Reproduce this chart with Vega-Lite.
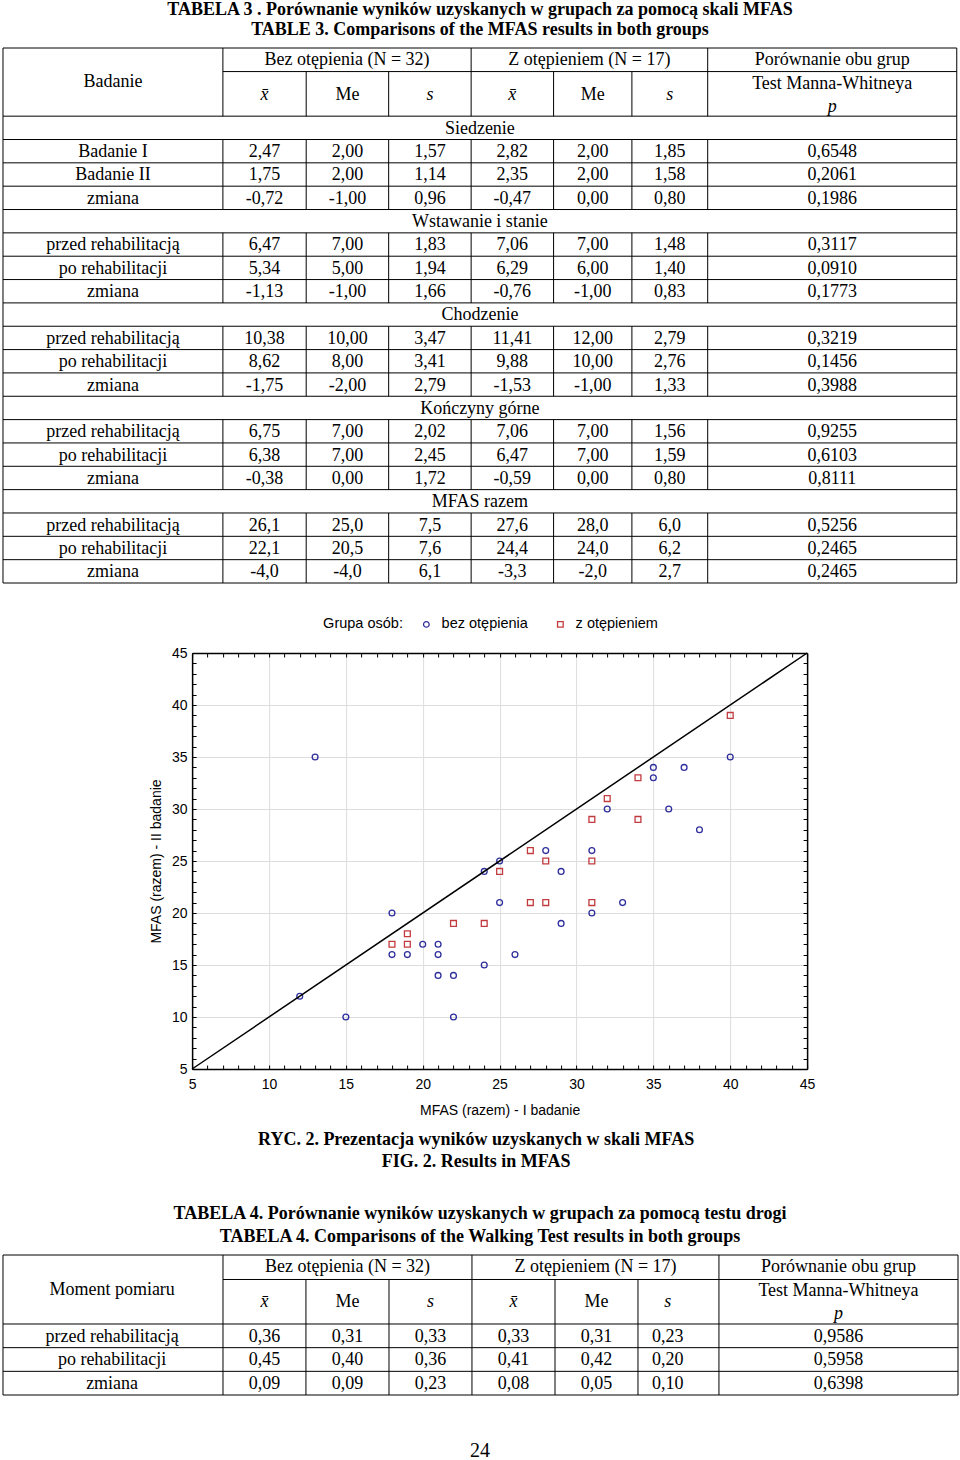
{
  "$schema": "https://vega.github.io/schema/vega-lite/v6.json",
  "background": "white",
  "padding": 0,
  "spacing": 33,
  "center": true,
  "resolve": {"legend": {"color": "independent", "shape": "independent"}},
  "config": {"view": {"stroke": null}, "font": "Liberation Sans"},
  "datasets": {
    "cols3": [
      {"c": "label", "x0": 0, "xm": 1.32},
      {"c": "m1", "x0": 2.64, "xm": 3.14},
      {"c": "me1", "x0": 3.64, "xm": 4.135},
      {"c": "s1", "x0": 4.63, "xm": 5.125},
      {"c": "m2", "x0": 5.62, "xm": 6.115},
      {"c": "me2", "x0": 6.61, "xm": 7.08},
      {"c": "s2", "x0": 7.55, "xm": 8.005},
      {"c": "p", "x0": 8.46, "xm": 9.955},
      {"c": "g1", "x0": 2.64, "xm": 4.13},
      {"c": "g2", "x0": 5.62, "xm": 7.04}
    ],
    "cols4": [
      {"c": "label", "x0": 0, "xm": 1.31},
      {"c": "m1", "x0": 2.641, "xm": 3.139},
      {"c": "me1", "x0": 3.637, "xm": 4.136},
      {"c": "s1", "x0": 4.634, "xm": 5.132},
      {"c": "m2", "x0": 5.63, "xm": 6.128},
      {"c": "me2", "x0": 6.627, "xm": 7.125},
      {"c": "s2", "x0": 7.623, "xm": 7.98},
      {"c": "p", "x0": 8.595, "xm": 10.03},
      {"c": "g1", "x0": 2.641, "xm": 4.136},
      {"c": "g2", "x0": 5.63, "xm": 7.113}
    ],
    "t3grid": [
      {"x": 0, "x2": 0, "y": -2.92, "y2": 20},
      {"x": 11.45, "x2": 11.45, "y": -2.92, "y2": 20},
      {"x": 0, "x2": 11.45, "y": -2.92, "y2": -2.92},
      {"x": 0, "x2": 11.45, "y": 20, "y2": 20},
      {"x": 2.64, "x2": 11.45, "y": -1.91, "y2": -1.91},
      {"x": 2.64, "x2": 2.64, "y": -2.92, "y2": 20},
      {"x": 5.62, "x2": 5.62, "y": -2.92, "y2": 20},
      {"x": 8.46, "x2": 8.46, "y": -2.92, "y2": 20},
      {"x": 3.64, "x2": 3.64, "y": -1.91, "y2": 20},
      {"x": 4.63, "x2": 4.63, "y": -1.91, "y2": 20},
      {"x": 6.61, "x2": 6.61, "y": -1.91, "y2": 20},
      {"x": 7.55, "x2": 7.55, "y": -1.91, "y2": 20}
    ],
    "t4grid": [
      {"x": 0, "x2": 0, "y": -2.915, "y2": 3},
      {"x": 11.465, "x2": 11.465, "y": -2.915, "y2": 3},
      {"x": 0, "x2": 11.465, "y": -2.915, "y2": -2.915},
      {"x": 0, "x2": 11.465, "y": 3, "y2": 3},
      {"x": 2.641, "x2": 11.465, "y": -1.88, "y2": -1.88},
      {"x": 2.641, "x2": 2.641, "y": -2.915, "y2": 3},
      {"x": 5.63, "x2": 5.63, "y": -2.915, "y2": 3},
      {"x": 8.595, "x2": 8.595, "y": -2.915, "y2": 3},
      {"x": 3.637, "x2": 3.637, "y": -1.88, "y2": 3},
      {"x": 4.634, "x2": 4.634, "y": -1.88, "y2": 3},
      {"x": 6.627, "x2": 6.627, "y": -1.88, "y2": 3},
      {"x": 7.623, "x2": 7.623, "y": -1.88, "y2": 3}
    ],
    "t3head": [
      {"t": "Badanie", "c": "label", "hy": -1.47},
      {"t": "Bez otępienia (N = 32)", "c": "g1", "hy": -2.41},
      {"t": "Z otępieniem (N = 17)", "c": "g2", "hy": -2.41},
      {"t": "Porównanie obu grup", "c": "p", "hy": -2.41},
      {"t": "x̄", "c": "m1", "hy": -0.92, "it": true},
      {"t": "Me", "c": "me1", "hy": -0.92},
      {"t": "s", "c": "s1", "hy": -0.92, "it": true},
      {"t": "x̄", "c": "m2", "hy": -0.92, "it": true},
      {"t": "Me", "c": "me2", "hy": -0.92},
      {"t": "s", "c": "s2", "hy": -0.92, "it": true},
      {"t": "Test Manna-Whitneya", "c": "p", "hy": -1.38},
      {"t": "p", "c": "p", "hy": -0.41, "it": true}
    ],
    "t4head": [
      {"t": "Moment pomiaru", "c": "label", "hy": -1.44},
      {"t": "Bez otępienia (N = 32)", "c": "g1", "hy": -2.41},
      {"t": "Z otępieniem (N = 17)", "c": "g2", "hy": -2.41},
      {"t": "Porównanie obu grup", "c": "p", "hy": -2.41},
      {"t": "x̄", "c": "m1", "hy": -0.93, "it": true},
      {"t": "Me", "c": "me1", "hy": -0.93},
      {"t": "s", "c": "s1", "hy": -0.93, "it": true},
      {"t": "x̄", "c": "m2", "hy": -0.93, "it": true},
      {"t": "Me", "c": "me2", "hy": -0.93},
      {"t": "s", "c": "s2", "hy": -0.93, "it": true},
      {"t": "Test Manna-Whitneya", "c": "p", "hy": -1.39},
      {"t": "p", "c": "p", "hy": -0.42, "it": true}
    ],
    "t3body": [
      {"row": 0, "next": 1, "section": "Siedzenie"},
      {"row": 1, "label": "Badanie I", "m1": "2,47", "me1": "2,00", "s1": "1,57", "m2": "2,82", "me2": "2,00", "s2": "1,85", "p": "0,6548"},
      {"row": 2, "label": "Badanie II", "m1": "1,75", "me1": "2,00", "s1": "1,14", "m2": "2,35", "me2": "2,00", "s2": "1,58", "p": "0,2061"},
      {"row": 3, "label": "zmiana", "m1": "-0,72", "me1": "-1,00", "s1": "0,96", "m2": "-0,47", "me2": "0,00", "s2": "0,80", "p": "0,1986"},
      {"row": 4, "next": 5, "section": "Wstawanie i stanie"},
      {"row": 5, "label": "przed rehabilitacją", "m1": "6,47", "me1": "7,00", "s1": "1,83", "m2": "7,06", "me2": "7,00", "s2": "1,48", "p": "0,3117"},
      {"row": 6, "label": "po rehabilitacji", "m1": "5,34", "me1": "5,00", "s1": "1,94", "m2": "6,29", "me2": "6,00", "s2": "1,40", "p": "0,0910"},
      {"row": 7, "label": "zmiana", "m1": "-1,13", "me1": "-1,00", "s1": "1,66", "m2": "-0,76", "me2": "-1,00", "s2": "0,83", "p": "0,1773"},
      {"row": 8, "next": 9, "section": "Chodzenie"},
      {"row": 9, "label": "przed rehabilitacją", "m1": "10,38", "me1": "10,00", "s1": "3,47", "m2": "11,41", "me2": "12,00", "s2": "2,79", "p": "0,3219"},
      {"row": 10, "label": "po rehabilitacji", "m1": "8,62", "me1": "8,00", "s1": "3,41", "m2": "9,88", "me2": "10,00", "s2": "2,76", "p": "0,1456"},
      {"row": 11, "label": "zmiana", "m1": "-1,75", "me1": "-2,00", "s1": "2,79", "m2": "-1,53", "me2": "-1,00", "s2": "1,33", "p": "0,3988"},
      {"row": 12, "next": 13, "section": "Kończyny górne"},
      {"row": 13, "label": "przed rehabilitacją", "m1": "6,75", "me1": "7,00", "s1": "2,02", "m2": "7,06", "me2": "7,00", "s2": "1,56", "p": "0,9255"},
      {"row": 14, "label": "po rehabilitacji", "m1": "6,38", "me1": "7,00", "s1": "2,45", "m2": "6,47", "me2": "7,00", "s2": "1,59", "p": "0,6103"},
      {"row": 15, "label": "zmiana", "m1": "-0,38", "me1": "0,00", "s1": "1,72", "m2": "-0,59", "me2": "0,00", "s2": "0,80", "p": "0,8111"},
      {"row": 16, "next": 17, "section": "MFAS razem"},
      {"row": 17, "label": "przed rehabilitacją", "m1": "26,1", "me1": "25,0", "s1": "7,5", "m2": "27,6", "me2": "28,0", "s2": "6,0", "p": "0,5256"},
      {"row": 18, "label": "po rehabilitacji", "m1": "22,1", "me1": "20,5", "s1": "7,6", "m2": "24,4", "me2": "24,0", "s2": "6,2", "p": "0,2465"},
      {"row": 19, "label": "zmiana", "m1": "-4,0", "me1": "-4,0", "s1": "6,1", "m2": "-3,3", "me2": "-2,0", "s2": "2,7", "p": "0,2465"}
    ],
    "t4body": [
      {"row": 0, "label": "przed rehabilitacją", "m1": "0,36", "me1": "0,31", "s1": "0,33", "m2": "0,33", "me2": "0,31", "s2": "0,23", "p": "0,9586"},
      {"row": 1, "label": "po rehabilitacji", "m1": "0,45", "me1": "0,40", "s1": "0,36", "m2": "0,41", "me2": "0,42", "s2": "0,20", "p": "0,5958"},
      {"row": 2, "label": "zmiana", "m1": "0,09", "me1": "0,09", "s1": "0,23", "m2": "0,08", "me2": "0,05", "s2": "0,10", "p": "0,6398"}
    ],
    "scatter": [
      {"I": 13, "II": 35, "grupa": "bez otępienia"},
      {"I": 40, "II": 35, "grupa": "bez otępienia"},
      {"I": 35, "II": 34, "grupa": "bez otępienia"},
      {"I": 37, "II": 34, "grupa": "bez otępienia"},
      {"I": 35, "II": 33, "grupa": "bez otępienia"},
      {"I": 32, "II": 30, "grupa": "bez otępienia"},
      {"I": 36, "II": 30, "grupa": "bez otępienia"},
      {"I": 38, "II": 28, "grupa": "bez otępienia"},
      {"I": 28, "II": 26, "grupa": "bez otępienia"},
      {"I": 31, "II": 26, "grupa": "bez otępienia"},
      {"I": 25, "II": 25, "grupa": "bez otępienia"},
      {"I": 24, "II": 24, "grupa": "bez otępienia"},
      {"I": 29, "II": 24, "grupa": "bez otępienia"},
      {"I": 25, "II": 21, "grupa": "bez otępienia"},
      {"I": 33, "II": 21, "grupa": "bez otępienia"},
      {"I": 31, "II": 20, "grupa": "bez otępienia"},
      {"I": 29, "II": 19, "grupa": "bez otępienia"},
      {"I": 26, "II": 16, "grupa": "bez otępienia"},
      {"I": 24, "II": 15, "grupa": "bez otępienia"},
      {"I": 18, "II": 20, "grupa": "bez otępienia"},
      {"I": 20, "II": 17, "grupa": "bez otępienia"},
      {"I": 21, "II": 17, "grupa": "bez otępienia"},
      {"I": 18, "II": 16, "grupa": "bez otępienia"},
      {"I": 19, "II": 16, "grupa": "bez otępienia"},
      {"I": 21, "II": 16, "grupa": "bez otępienia"},
      {"I": 21, "II": 14, "grupa": "bez otępienia"},
      {"I": 22, "II": 14, "grupa": "bez otępienia"},
      {"I": 12, "II": 12, "grupa": "bez otępienia"},
      {"I": 15, "II": 10, "grupa": "bez otępienia"},
      {"I": 22, "II": 10, "grupa": "bez otępienia"},
      {"I": 40, "II": 39, "grupa": "z otępieniem"},
      {"I": 34, "II": 33, "grupa": "z otępieniem"},
      {"I": 32, "II": 31, "grupa": "z otępieniem"},
      {"I": 31, "II": 29, "grupa": "z otępieniem"},
      {"I": 34, "II": 29, "grupa": "z otępieniem"},
      {"I": 27, "II": 26, "grupa": "z otępieniem"},
      {"I": 28, "II": 25, "grupa": "z otępieniem"},
      {"I": 31, "II": 25, "grupa": "z otępieniem"},
      {"I": 25, "II": 24, "grupa": "z otępieniem"},
      {"I": 27, "II": 21, "grupa": "z otępieniem"},
      {"I": 28, "II": 21, "grupa": "z otępieniem"},
      {"I": 31, "II": 21, "grupa": "z otępieniem"},
      {"I": 24, "II": 19, "grupa": "z otępieniem"},
      {"I": 22, "II": 19, "grupa": "z otępieniem"},
      {"I": 19, "II": 18, "grupa": "z otępieniem"},
      {"I": 18, "II": 17, "grupa": "z otępieniem"},
      {"I": 19, "II": 17, "grupa": "z otępieniem"}
    ],
    "diag": [{"I": 5, "II": 5}, {"I": 45, "II": 45}],
    "page": [{"n": "24"}]
  },
  "vconcat": [
    {
      "width": 960,
      "height": 535,
      "title": {"text": ["TABELA 3 . Porównanie wyników uzyskanych w grupach za pomocą skali MFAS", "TABLE 3. Comparisons of the MFAS results in both groups"], "font": "Liberation Serif", "fontSize": 18, "fontWeight": "bold", "lineHeight": 20, "color": "black", "anchor": "middle", "offset": 9},
      "layer": [
        {
          "data": {"name": "t3grid"},
          "mark": {"type": "rule", "color": "black", "strokeWidth": 1},
          "encoding": {
            "x": {"field": "x", "type": "quantitative", "scale": {"domain": [-0.036, 11.489], "nice": false, "zero": false}, "axis": null},
            "x2": {"field": "x2"},
            "y": {"field": "y", "type": "quantitative", "scale": {"domain": [-2.92, 20], "reverse": true, "nice": false, "zero": false}, "axis": null},
            "y2": {"field": "y2"}
          }
        },
        {
          "data": {"name": "t3body"},
          "transform": [{"filter": "isValid(datum.section)"}],
          "mark": {"type": "rect", "color": "white"},
          "encoding": {
            "x": {"datum": 0.015, "type": "quantitative", "scale": {"domain": [-0.036, 11.489], "nice": false, "zero": false}, "axis": null},
            "x2": {"datum": 11.435},
            "y": {"field": "row", "type": "quantitative", "scale": {"domain": [-2.92, 20], "reverse": true, "nice": false, "zero": false}, "axis": null},
            "y2": {"field": "next"}
          }
        },
        {
          "data": {"name": "t3body"},
          "mark": {"type": "rule", "color": "black", "strokeWidth": 1},
          "encoding": {
            "x": {"datum": 0, "type": "quantitative", "scale": {"domain": [-0.036, 11.489], "nice": false, "zero": false}, "axis": null},
            "x2": {"datum": 11.45},
            "y": {"field": "row", "type": "quantitative", "scale": {"domain": [-2.92, 20], "reverse": true, "nice": false, "zero": false}, "axis": null}
          }
        },
        {
          "data": {"name": "t3body"},
          "transform": [
            {"fold": ["label", "m1", "me1", "s1", "m2", "me2", "s2", "p"], "as": ["c", "t"]},
            {"filter": "isValid(datum.t)"},
            {"lookup": "c", "from": {"data": {"name": "cols3"}, "key": "c", "fields": ["xm"]}}
          ],
          "mark": {"type": "text", "font": "Liberation Serif", "fontSize": 18, "color": "black", "baseline": "middle", "dy": 12.6},
          "encoding": {
            "x": {"field": "xm", "type": "quantitative", "scale": {"domain": [-0.036, 11.489], "nice": false, "zero": false}, "axis": null},
            "y": {"field": "row", "type": "quantitative", "scale": {"domain": [-2.92, 20], "reverse": true, "nice": false, "zero": false}, "axis": null},
            "text": {"field": "t"}
          }
        },
        {
          "data": {"name": "t3body"},
          "transform": [{"filter": "isValid(datum.section)"}],
          "mark": {"type": "text", "font": "Liberation Serif", "fontSize": 18, "color": "black", "baseline": "middle", "dy": 12.6},
          "encoding": {
            "x": {"datum": 5.725, "type": "quantitative", "scale": {"domain": [-0.036, 11.489], "nice": false, "zero": false}, "axis": null},
            "y": {"field": "row", "type": "quantitative", "scale": {"domain": [-2.92, 20], "reverse": true, "nice": false, "zero": false}, "axis": null},
            "text": {"field": "section"}
          }
        },
        {
          "data": {"name": "t3head"},
          "transform": [
            {"filter": "!datum.it"},
            {"lookup": "c", "from": {"data": {"name": "cols3"}, "key": "c", "fields": ["xm"]}}
          ],
          "mark": {"type": "text", "font": "Liberation Serif", "fontSize": 18, "color": "black", "baseline": "middle"},
          "encoding": {
            "x": {"field": "xm", "type": "quantitative", "scale": {"domain": [-0.036, 11.489], "nice": false, "zero": false}, "axis": null},
            "y": {"field": "hy", "type": "quantitative", "scale": {"domain": [-2.92, 20], "reverse": true, "nice": false, "zero": false}, "axis": null},
            "text": {"field": "t"}
          }
        },
        {
          "data": {"name": "t3head"},
          "transform": [
            {"filter": "datum.it"},
            {"lookup": "c", "from": {"data": {"name": "cols3"}, "key": "c", "fields": ["xm"]}}
          ],
          "mark": {"type": "text", "font": "Liberation Serif", "fontSize": 18, "fontStyle": "italic", "color": "black", "baseline": "middle"},
          "encoding": {
            "x": {"field": "xm", "type": "quantitative", "scale": {"domain": [-0.036, 11.489], "nice": false, "zero": false}, "axis": null},
            "y": {"field": "hy", "type": "quantitative", "scale": {"domain": [-2.92, 20], "reverse": true, "nice": false, "zero": false}, "axis": null},
            "text": {"field": "t"}
          }
        }
      ]
    },
    {
      "width": 662,
      "height": 416,
      "title": {"text": ["RYC. 2.  Prezentacja wyników uzyskanych w skali MFAS", "FIG. 2. Results in MFAS"], "orient": "bottom", "frame": "group", "anchor": "middle", "font": "Liberation Serif", "fontSize": 18, "fontWeight": "bold", "lineHeight": 22, "color": "black", "offset": 14},
      "resolve": {"axis": {"x": "independent", "y": "independent"}},
      "layer": [
        {
          "data": {"name": "scatter"},
          "mark": {"type": "point", "filled": false, "strokeWidth": 1.3, "size": 34, "opacity": 1},
          "encoding": {
            "x": {
              "field": "I", "type": "quantitative",
              "scale": {"domain": [5, 45], "range": [47, 662], "nice": false, "zero": false},
              "axis": {
                "orient": "bottom",
                "values": [5,6,7,8,9,10,11,12,13,14,15,16,17,18,19,20,21,22,23,24,25,26,27,28,29,30,31,32,33,34,35,36,37,38,39,40,41,42,43,44,45],
                "labelExpr": "datum.value % 5 === 0 ? datum.label : ''",
                "labelOverlap": false, "labelFlush": false,
                "labelFont": "Liberation Sans", "labelFontSize": 14, "labelColor": "black", "labelPadding": 12,
                "tickSize": -4, "tickColor": "black", "tickWidth": 1,
                "domainColor": "black", "domainWidth": 1.5,
                "grid": true, "gridColor": "#dddddd", "gridWidth": 1,
                "gridOpacity": {"condition": {"test": "datum.value % 5 === 0", "value": 1}, "value": 0},
                "title": "MFAS (razem) - I badanie", "titleFont": "Liberation Sans", "titleFontSize": 14, "titleFontWeight": "normal", "titleColor": "black", "titlePadding": 12
              }
            },
            "y": {
              "field": "II", "type": "quantitative",
              "scale": {"domain": [5, 45], "nice": false, "zero": false},
              "axis": {
                "orient": "left",
                "offset": -47,
                "values": [5,6,7,8,9,10,11,12,13,14,15,16,17,18,19,20,21,22,23,24,25,26,27,28,29,30,31,32,33,34,35,36,37,38,39,40,41,42,43,44,45],
                "labelExpr": "datum.value % 5 === 0 ? datum.label : ''",
                "labelOverlap": false, "labelFlush": false,
                "labelFont": "Liberation Sans", "labelFontSize": 14, "labelColor": "black", "labelPadding": 9,
                "tickSize": -4, "tickColor": "black", "tickWidth": 1,
                "domainColor": "black", "domainWidth": 1.5,
                "grid": true, "gridColor": "#dddddd", "gridWidth": 1,
                "gridOpacity": {"condition": {"test": "datum.value % 5 === 0", "value": 1}, "value": 0},
                "title": "MFAS (razem) - II badanie", "titleFont": "Liberation Sans", "titleFontSize": 14, "titleFontWeight": "normal", "titleColor": "black", "titlePadding": 8
              }
            },
            "shape": {
              "field": "grupa", "type": "nominal",
              "scale": {"domain": ["bez otępienia", "z otępieniem"], "range": ["circle", "square"]},
              "legend": {"title": "Grupa osób:", "orient": "none", "legendX": 178, "legendY": -36, "direction": "horizontal", "titleOrient": "left", "titleFont": "Liberation Sans", "titleFontSize": 14.5, "titleFontWeight": "normal", "titleColor": "black", "titlePadding": 16, "labelFont": "Liberation Sans", "labelFontSize": 14.5, "labelColor": "black", "labelOffset": 8, "columnPadding": 25, "symbolSize": 32, "symbolStrokeWidth": 1.3}
            },
            "color": {
              "field": "grupa", "type": "nominal",
              "scale": {"domain": ["bez otępienia", "z otępieniem"], "range": ["#2e2e9c", "#c23b3f"]},
              "legend": {"title": "Grupa osób:", "orient": "none", "legendX": 178, "legendY": -36, "direction": "horizontal", "titleOrient": "left", "titleFont": "Liberation Sans", "titleFontSize": 14.5, "titleFontWeight": "normal", "titleColor": "black", "titlePadding": 16, "labelFont": "Liberation Sans", "labelFontSize": 14.5, "labelColor": "black", "labelOffset": 8, "columnPadding": 25, "symbolSize": 32, "symbolStrokeWidth": 1.3}
            }
          }
        },
        {
          "data": {"name": "diag"},
          "mark": {"type": "line", "color": "black", "strokeWidth": 1.5},
          "encoding": {
            "x": {
              "field": "I", "type": "quantitative",
              "scale": {"domain": [5, 45], "range": [47, 662], "nice": false, "zero": false},
              "axis": {"orient": "top", "values": [5,6,7,8,9,10,11,12,13,14,15,16,17,18,19,20,21,22,23,24,25,26,27,28,29,30,31,32,33,34,35,36,37,38,39,40,41,42,43,44,45], "labels": false, "tickSize": -4, "tickColor": "black", "domainColor": "black", "domainWidth": 1.5, "grid": false, "title": null}
            },
            "y": {
              "field": "II", "type": "quantitative",
              "scale": {"domain": [5, 45], "nice": false, "zero": false},
              "axis": {"orient": "right", "values": [5,6,7,8,9,10,11,12,13,14,15,16,17,18,19,20,21,22,23,24,25,26,27,28,29,30,31,32,33,34,35,36,37,38,39,40,41,42,43,44,45], "labels": false, "tickSize": -4, "tickColor": "black", "domainColor": "black", "domainWidth": 1.5, "grid": false, "title": null}
            }
          }
        }
      ]
    },
    {
      "width": 960,
      "height": 140,
      "title": {"text": ["TABELA 4.  Porównanie wyników uzyskanych w grupach za pomocą testu drogi", "TABELA 4. Comparisons of the Walking Test results in both groups"], "font": "Liberation Serif", "fontSize": 18, "fontWeight": "bold", "lineHeight": 23, "color": "black", "anchor": "middle", "offset": 9},
      "layer": [
        {
          "data": {"name": "t4grid"},
          "mark": {"type": "rule", "color": "black", "strokeWidth": 1},
          "encoding": {
            "x": {"field": "x", "type": "quantitative", "scale": {"domain": [-0.036, 11.489], "nice": false, "zero": false}, "axis": null},
            "x2": {"field": "x2"},
            "y": {"field": "y", "type": "quantitative", "scale": {"domain": [-2.915, 3], "reverse": true, "nice": false, "zero": false}, "axis": null},
            "y2": {"field": "y2"}
          }
        },
        {
          "data": {"name": "t4body"},
          "mark": {"type": "rule", "color": "black", "strokeWidth": 1},
          "encoding": {
            "x": {"datum": 0, "type": "quantitative", "scale": {"domain": [-0.036, 11.489], "nice": false, "zero": false}, "axis": null},
            "x2": {"datum": 11.465},
            "y": {"field": "row", "type": "quantitative", "scale": {"domain": [-2.915, 3], "reverse": true, "nice": false, "zero": false}, "axis": null}
          }
        },
        {
          "data": {"name": "t4body"},
          "transform": [
            {"fold": ["label", "m1", "me1", "s1", "m2", "me2", "s2", "p"], "as": ["c", "t"]},
            {"filter": "isValid(datum.t)"},
            {"lookup": "c", "from": {"data": {"name": "cols4"}, "key": "c", "fields": ["xm"]}}
          ],
          "mark": {"type": "text", "font": "Liberation Serif", "fontSize": 18, "color": "black", "baseline": "middle", "dy": 12.7},
          "encoding": {
            "x": {"field": "xm", "type": "quantitative", "scale": {"domain": [-0.036, 11.489], "nice": false, "zero": false}, "axis": null},
            "y": {"field": "row", "type": "quantitative", "scale": {"domain": [-2.915, 3], "reverse": true, "nice": false, "zero": false}, "axis": null},
            "text": {"field": "t"}
          }
        },
        {
          "data": {"name": "t4head"},
          "transform": [
            {"filter": "!datum.it"},
            {"lookup": "c", "from": {"data": {"name": "cols4"}, "key": "c", "fields": ["xm"]}}
          ],
          "mark": {"type": "text", "font": "Liberation Serif", "fontSize": 18, "color": "black", "baseline": "middle"},
          "encoding": {
            "x": {"field": "xm", "type": "quantitative", "scale": {"domain": [-0.036, 11.489], "nice": false, "zero": false}, "axis": null},
            "y": {"field": "hy", "type": "quantitative", "scale": {"domain": [-2.915, 3], "reverse": true, "nice": false, "zero": false}, "axis": null},
            "text": {"field": "t"}
          }
        },
        {
          "data": {"name": "t4head"},
          "transform": [
            {"filter": "datum.it"},
            {"lookup": "c", "from": {"data": {"name": "cols4"}, "key": "c", "fields": ["xm"]}}
          ],
          "mark": {"type": "text", "font": "Liberation Serif", "fontSize": 18, "fontStyle": "italic", "color": "black", "baseline": "middle"},
          "encoding": {
            "x": {"field": "xm", "type": "quantitative", "scale": {"domain": [-0.036, 11.489], "nice": false, "zero": false}, "axis": null},
            "y": {"field": "hy", "type": "quantitative", "scale": {"domain": [-2.915, 3], "reverse": true, "nice": false, "zero": false}, "axis": null},
            "text": {"field": "t"}
          }
        }
      ]
    },
    {
      "width": 960,
      "height": 43,
      "data": {"name": "page"},
      "mark": {"type": "text", "font": "Liberation Serif", "fontSize": 20, "color": "black", "baseline": "middle"},
      "encoding": {"text": {"field": "n"}}
    }
  ]
}
